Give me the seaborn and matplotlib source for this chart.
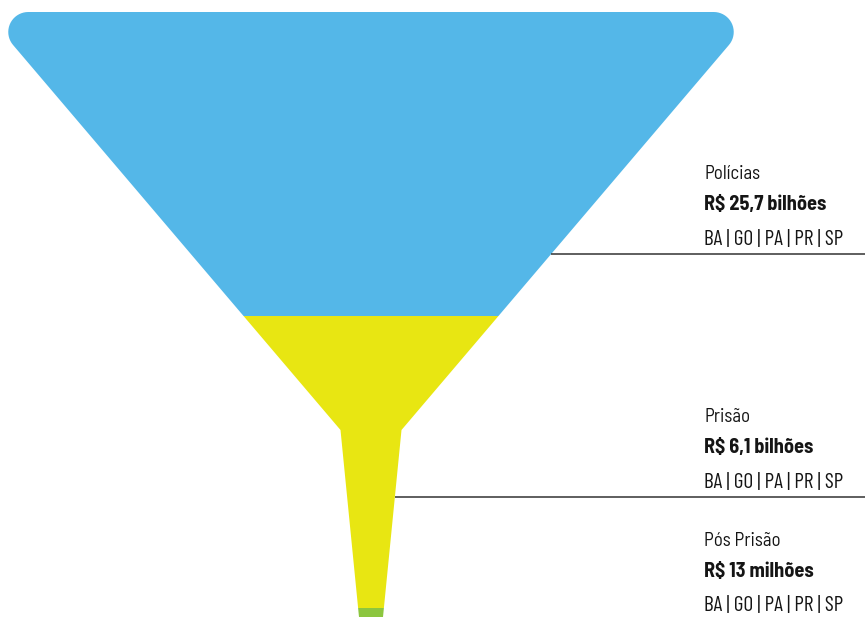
import numpy as np
import matplotlib.pyplot as plt
import seaborn as sns
from matplotlib.patches import Rectangle

# dados do funil
stages = ['Polícias', 'Prisão', 'Pós Prisão']
values = ['R$ 25,7 bilhões', 'R$ 6,1 bilhões', 'R$ 13 milhões']
states = ['BA | GO | PA | PR | SP', 'BA | GO | PA | PR | SP', 'BA | GO | PA | PR | SP']
colors = ['#54B7E8', '#E8E612', '#8CC63F']

sns.set_theme(style='white')
plt.rcParams['font.family'] = ['Barlow Semi Condensed', 'Liberation Sans', 'DejaVu Sans']
palette = sns.color_palette(colors)

W, H = 865, 617
fig = plt.figure(figsize=(W / 100, H / 100), dpi=100)
ax = fig.add_axes([0, 0, 1, 1])
ax.set_xlim(0, W)
ax.set_ylim(H, 0)
ax.axis('off')

# geometria do funil (pixels)
cx = 371
top_y, neck_y, bot_y = 12, 430, 617
half_top, half_neck, half_bot = 386, 30.5, 12
bands = [(top_y, 316), (316, 608), (608, bot_y + 1)]
corner_r = 20


def fillet(P, A, B, r, n=20):
    P, A, B = map(np.asarray, (P, A, B))
    d1 = (A - P) / np.linalg.norm(A - P)
    d2 = (B - P) / np.linalg.norm(B - P)
    ang = np.arccos(np.clip(d1 @ d2, -1, 1))
    t = r / np.tan(ang / 2)
    bis = (d1 + d2) / np.linalg.norm(d1 + d2)
    C = P + bis * r / np.sin(ang / 2)
    T1, T2 = P + d1 * t, P + d2 * t
    a1 = np.arctan2(*(T1 - C)[::-1])
    a2 = np.arctan2(*(T2 - C)[::-1])
    da = (a2 - a1 + np.pi) % (2 * np.pi) - np.pi
    a = a1 + np.linspace(0, 1, n) * da
    return np.c_[C[0] + r * np.cos(a), C[1] + r * np.sin(a)]


tl = (cx - half_top, top_y)
tr = (cx + half_top, top_y)
rn = (cx + half_neck, neck_y)
rb = (cx + half_bot, bot_y)
lb = (cx - half_bot, bot_y)
ln = (cx - half_neck, neck_y)

outline = np.vstack([
    fillet(tl, ln, tr, corner_r),
    fillet(tr, tl, rn, corner_r),
    [rn, rb, lb, ln],
])

for (y0, y1), col in zip(bands, palette):
    patch = ax.fill(outline[:, 0], outline[:, 1], color=col, lw=0)[0]
    clip = Rectangle((0, y0), W, y1 - y0, transform=ax.transData)
    patch.set_clip_path(clip)

# rótulos: tamanho de fonte ajustado à largura vista na referência
text_x = 704
styles = [
    dict(family=['Barlow Semi Condensed', 'DejaVu Sans'], fontweight='normal', width=56),
    dict(family=['Barlow Semi Condensed', 'DejaVu Sans'], fontweight='bold', width=122),
    dict(family=['Barlow Condensed', 'DejaVu Sans'], fontweight='normal', width=140),
]
renderer = fig.canvas.get_renderer()
sizes = []
for st, txt in zip(styles, [stages[0], values[0], states[0]]):
    probe = ax.text(0, 0, txt, fontsize=10, family=st['family'], fontweight=st['fontweight'])
    w = probe.get_window_extent(renderer).width
    probe.remove()
    sizes.append(10 * st['width'] / w)

baselines = [(179, 210, 245), (422, 453, 488), (546, 577, 611)]
line_y = [254, 497, None]
right_y = [top_y, neck_y, bot_y]
right_x = [tr[0], rn[0], rb[0]]

for i in range(len(stages)):
    for txt, yb, st, fs in zip([stages[i], values[i], states[i]], baselines[i], styles, sizes):
        ax.text(text_x, yb, txt, fontsize=fs, family=st['family'],
                fontweight=st['fontweight'], color='#151515', va='baseline')
    if line_y[i] is not None:
        x0 = np.interp(line_y[i], right_y, right_x)
        ax.plot([x0, W], [line_y[i]] * 2, color='#333333', lw=1.1,
                solid_capstyle='butt')

fig.savefig('out.png', dpi=100)
